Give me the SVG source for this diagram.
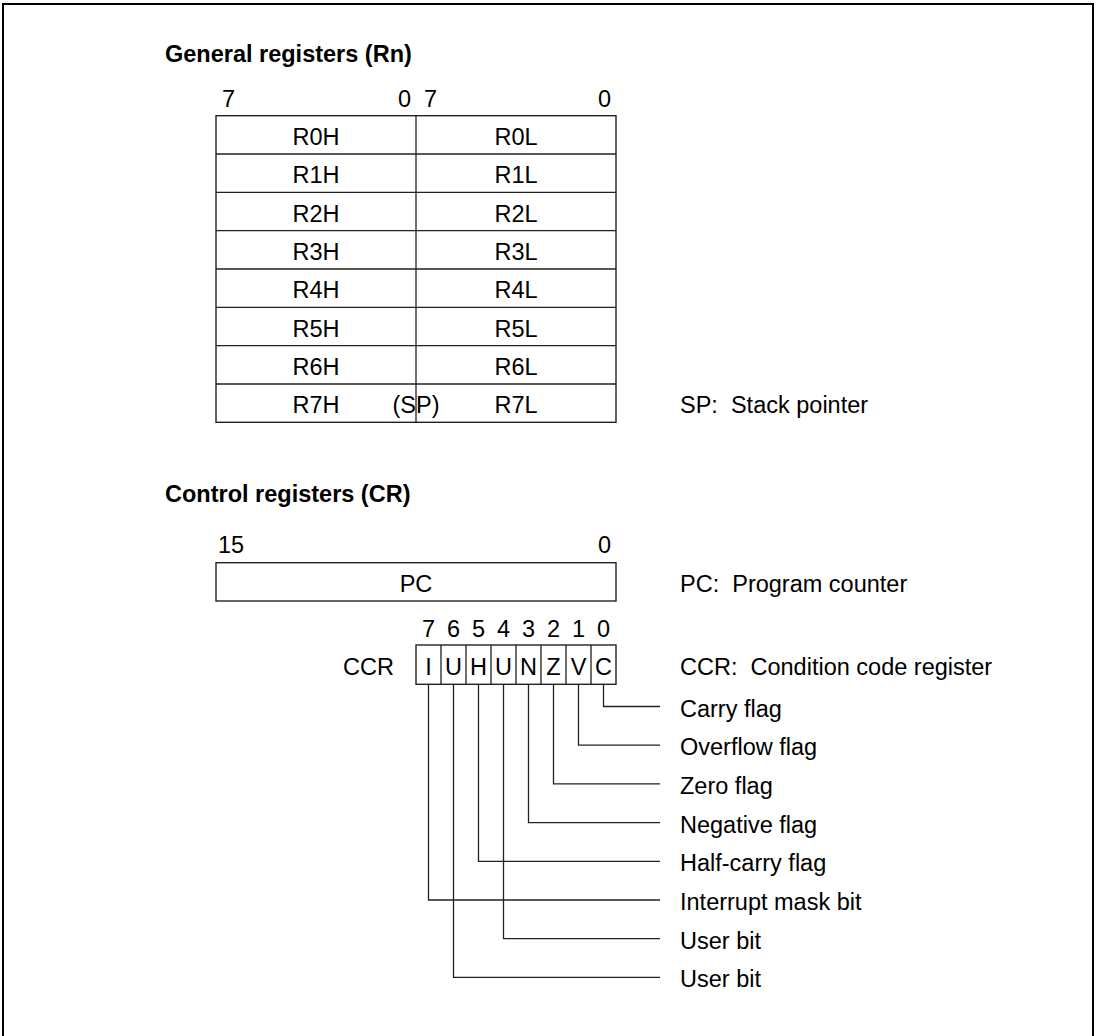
<svg xmlns="http://www.w3.org/2000/svg" width="1096" height="1036" viewBox="0 0 1096 1036">
<style>
text{font-family:"Liberation Sans",Arial,sans-serif;font-size:23.5px;fill:#000;white-space:pre}
.t{font-weight:bold}
.m{text-anchor:middle}
.e{text-anchor:end}
.box{fill:#fff;stroke:#222;stroke-width:1.4}
.ln{fill:none;stroke:#222;stroke-width:1.3}
</style>
<rect x="3" y="4" width="1090" height="1040" fill="#fff" stroke="#000" stroke-width="2"/>
<text class="t" x="165" y="62">General registers (Rn)</text>
<g id="gr-bits">
<text x="222" y="107">7</text>
<text class="e" x="411" y="107">0</text>
<text x="424" y="107">7</text>
<text class="e" x="611" y="107">0</text>
</g>
<g id="general-registers">
<rect class="box" x="216" y="115.7" width="400" height="306.6"/>
<path class="ln" d="M416 115.7V422.3M216 154H616M216 192.4H616M216 230.7H616M216 269H616M216 307.3H616M216 345.7H616M216 384H616"/>
<text class="m" x="316" y="145">R0H</text><text class="m" x="516" y="145">R0L</text>
<text class="m" x="316" y="183.3">R1H</text><text class="m" x="516" y="183.3">R1L</text>
<text class="m" x="316" y="221.6">R2H</text><text class="m" x="516" y="221.6">R2L</text>
<text class="m" x="316" y="260">R3H</text><text class="m" x="516" y="260">R3L</text>
<text class="m" x="316" y="298.3">R4H</text><text class="m" x="516" y="298.3">R4L</text>
<text class="m" x="316" y="336.6">R5H</text><text class="m" x="516" y="336.6">R5L</text>
<text class="m" x="316" y="375">R6H</text><text class="m" x="516" y="375">R6L</text>
<text class="m" x="316" y="413.3">R7H</text><text class="m" x="516" y="413.3">R7L</text>
<text class="m" x="416" y="413.3">(SP)</text>
</g>
<text x="680" y="413.3">SP:  Stack pointer</text>
<text class="t" x="165" y="502">Control registers (CR)</text>
<g id="pc">
<text x="218" y="553">15</text>
<text class="e" x="611" y="553">0</text>
<rect class="box" x="216" y="562.7" width="400" height="38.3"/>
<text class="m" x="416" y="592">PC</text>
</g>
<text x="680" y="592">PC:  Program counter</text>
<g id="ccr">
<text x="343" y="675">CCR</text>
<text class="m" x="428.5" y="636.5">7</text><text class="m" x="453.5" y="636.5">6</text><text class="m" x="478.5" y="636.5">5</text><text class="m" x="503.5" y="636.5">4</text><text class="m" x="528.5" y="636.5">3</text><text class="m" x="553.5" y="636.5">2</text><text class="m" x="578.5" y="636.5">1</text><text class="m" x="603.5" y="636.5">0</text>
<rect class="box" x="416" y="645" width="200" height="39.3"/>
<path class="ln" d="M441 645V684.3M466 645V684.3M491 645V684.3M516 645V684.3M541 645V684.3M566 645V684.3M591 645V684.3"/>
<text class="m" x="428.5" y="675">I</text><text class="m" x="453.5" y="675">U</text><text class="m" x="478.5" y="675">H</text><text class="m" x="503.5" y="675">U</text><text class="m" x="528.5" y="675">N</text><text class="m" x="553.5" y="675">Z</text><text class="m" x="578.5" y="675">V</text><text class="m" x="603.5" y="675">C</text>
</g>
<text x="680" y="675">CCR:  Condition code register</text>
<g id="connectors">
<path class="ln" d="M603.5 684.3V706.5H660"/>
<path class="ln" d="M578.5 684.3V745.2H660"/>
<path class="ln" d="M553.5 684.3V783.9H660"/>
<path class="ln" d="M528.5 684.3V822.6H660"/>
<path class="ln" d="M478.5 684.3V861.3H660"/>
<path class="ln" d="M428.5 684.3V900H660"/>
<path class="ln" d="M503.5 684.3V938.7H660"/>
<path class="ln" d="M453.5 684.3V977.4H660"/>
</g>
<g id="labels">
<text x="680" y="716.5">Carry flag</text>
<text x="680" y="755.2">Overflow flag</text>
<text x="680" y="793.9">Zero flag</text>
<text x="680" y="832.6">Negative flag</text>
<text x="680" y="871.3">Half-carry flag</text>
<text x="680" y="910">Interrupt mask bit</text>
<text x="680" y="948.7">User bit</text>
<text x="680" y="987.4">User bit</text>
</g>
</svg>
